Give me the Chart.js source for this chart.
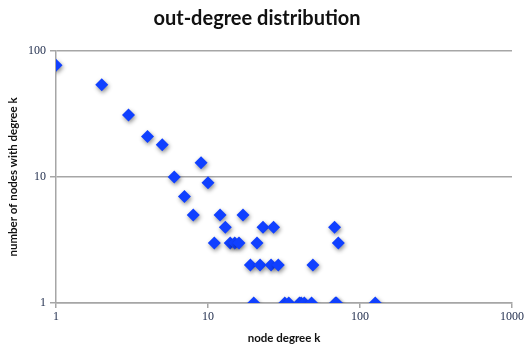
<!DOCTYPE html>
<html>
<head>
<meta charset="utf-8">
<script src="https://cdn.jsdelivr.net/npm/chart.js@4"></script>
<style>
  html, body { margin: 0; padding: 0; background: #fff; }
  #wrap { width: 526px; height: 345px; }
</style>
</head>
<body>
<div id="wrap"><canvas id="graphic" width="526" height="345"></canvas></div>
<script>
// node degree k / number of nodes with that degree
const degrees = [1, 2, 3, 4, 5, 6, 7, 8, 9, 10, 11, 12, 13, 14, 15, 16, 17, 19, 20, 21, 22, 23, 26, 27, 29, 32, 34, 40, 41, 43, 48, 49, 68, 69, 70, 72, 126]
const counts = [77, 54, 31, 21, 18, 10, 7, 5, 13, 9, 3, 5, 4, 3, 3, 3, 5, 2, 1, 3, 2, 4, 2, 4, 2, 1, 1, 1, 1, 1, 1, 2, 4, 1, 1, 3, 1]
const xTicks = [1, 10, 100, 1000]
const yTicks = [1, 10, 100]

const points = degrees.map((k, i) => ({ x: k, y: counts[i] }))

const shadowPlugin = {
  id: 'markerShadow',
  beforeDatasetsDraw: (chart) => {
    const ctx = chart.ctx
    ctx.save()
    ctx.shadowColor = 'rgba(0, 0, 0, 0.45)'
    ctx.shadowBlur = 4
    ctx.shadowOffsetX = 1
    ctx.shadowOffsetY = 2
  },
  afterDatasetsDraw: (chart) => {
    chart.ctx.restore()
  }
}

const tickFont = { family: '"Liberation Serif", "DejaVu Serif", serif', size: 12 }
const titleFont = { family: 'Lato, "Open Sans", sans-serif', weight: 'bold' }

new Chart(document.querySelector('#graphic'), {
  type: 'scatter',
  data: {
    datasets: [{
      label: 'out-degree',
      data: points,
      pointStyle: 'rectRot',
      pointRadius: 6.5,
      pointHoverRadius: 6.5,
      backgroundColor: '#1040ff',
      borderColor: '#1040ff',
      borderWidth: 0
    }]
  },
  options: {
    responsive: false,
    animation: false,
    layout: { padding: { left: 0, right: 12, top: 0, bottom: 0 } },
    plugins: {
      legend: { display: false },
      tooltip: { enabled: false },
      title: {
        display: true,
        text: 'out-degree distribution',
        color: '#111',
        font: { ...titleFont, size: 20 },
        padding: { top: 7, bottom: 20 }
      }
    },
    scales: {
      x: {
        type: 'logarithmic',
        min: 1,
        max: 1000,
        afterBuildTicks: (scale) => { scale.ticks = xTicks.map(v => ({ value: v })) },
        afterFit: (scale) => { scale.height = 42 },
        border: { display: true, color: '#a6a6a6', width: 1.5 },
        grid: { drawOnChartArea: false, drawTicks: true, tickLength: 5, color: '#a6a6a6', lineWidth: 1.5 },
        ticks: {
          autoSkip: false,
          maxRotation: 0,
          padding: 2,
          color: '#243150',
          font: tickFont,
          callback: (v) => String(v)
        },
        title: {
          display: true,
          text: 'node degree k',
          color: '#111',
          font: { ...titleFont, size: 11.5 },
          padding: { top: 4, bottom: 0 }
        }
      },
      y: {
        type: 'logarithmic',
        min: 1,
        max: 100,
        afterBuildTicks: (scale) => { scale.ticks = yTicks.map(v => ({ value: v })) },
        afterFit: (scale) => { scale.width = 56 },
        border: { display: true, color: '#a6a6a6', width: 1.5 },
        grid: { drawOnChartArea: true, drawTicks: true, tickLength: 6, color: '#a6a6a6', lineWidth: 1.5 },
        ticks: {
          autoSkip: false,
          padding: 4,
          color: '#243150',
          font: tickFont,
          callback: (v) => String(v)
        },
        title: {
          display: true,
          text: 'number of nodes with degree k',
          color: '#111',
          font: { ...titleFont, size: 11.5 },
          padding: { top: 6, bottom: 0 }
        }
      }
    }
  },
  plugins: [shadowPlugin]
})
</script>
</body>
</html>
